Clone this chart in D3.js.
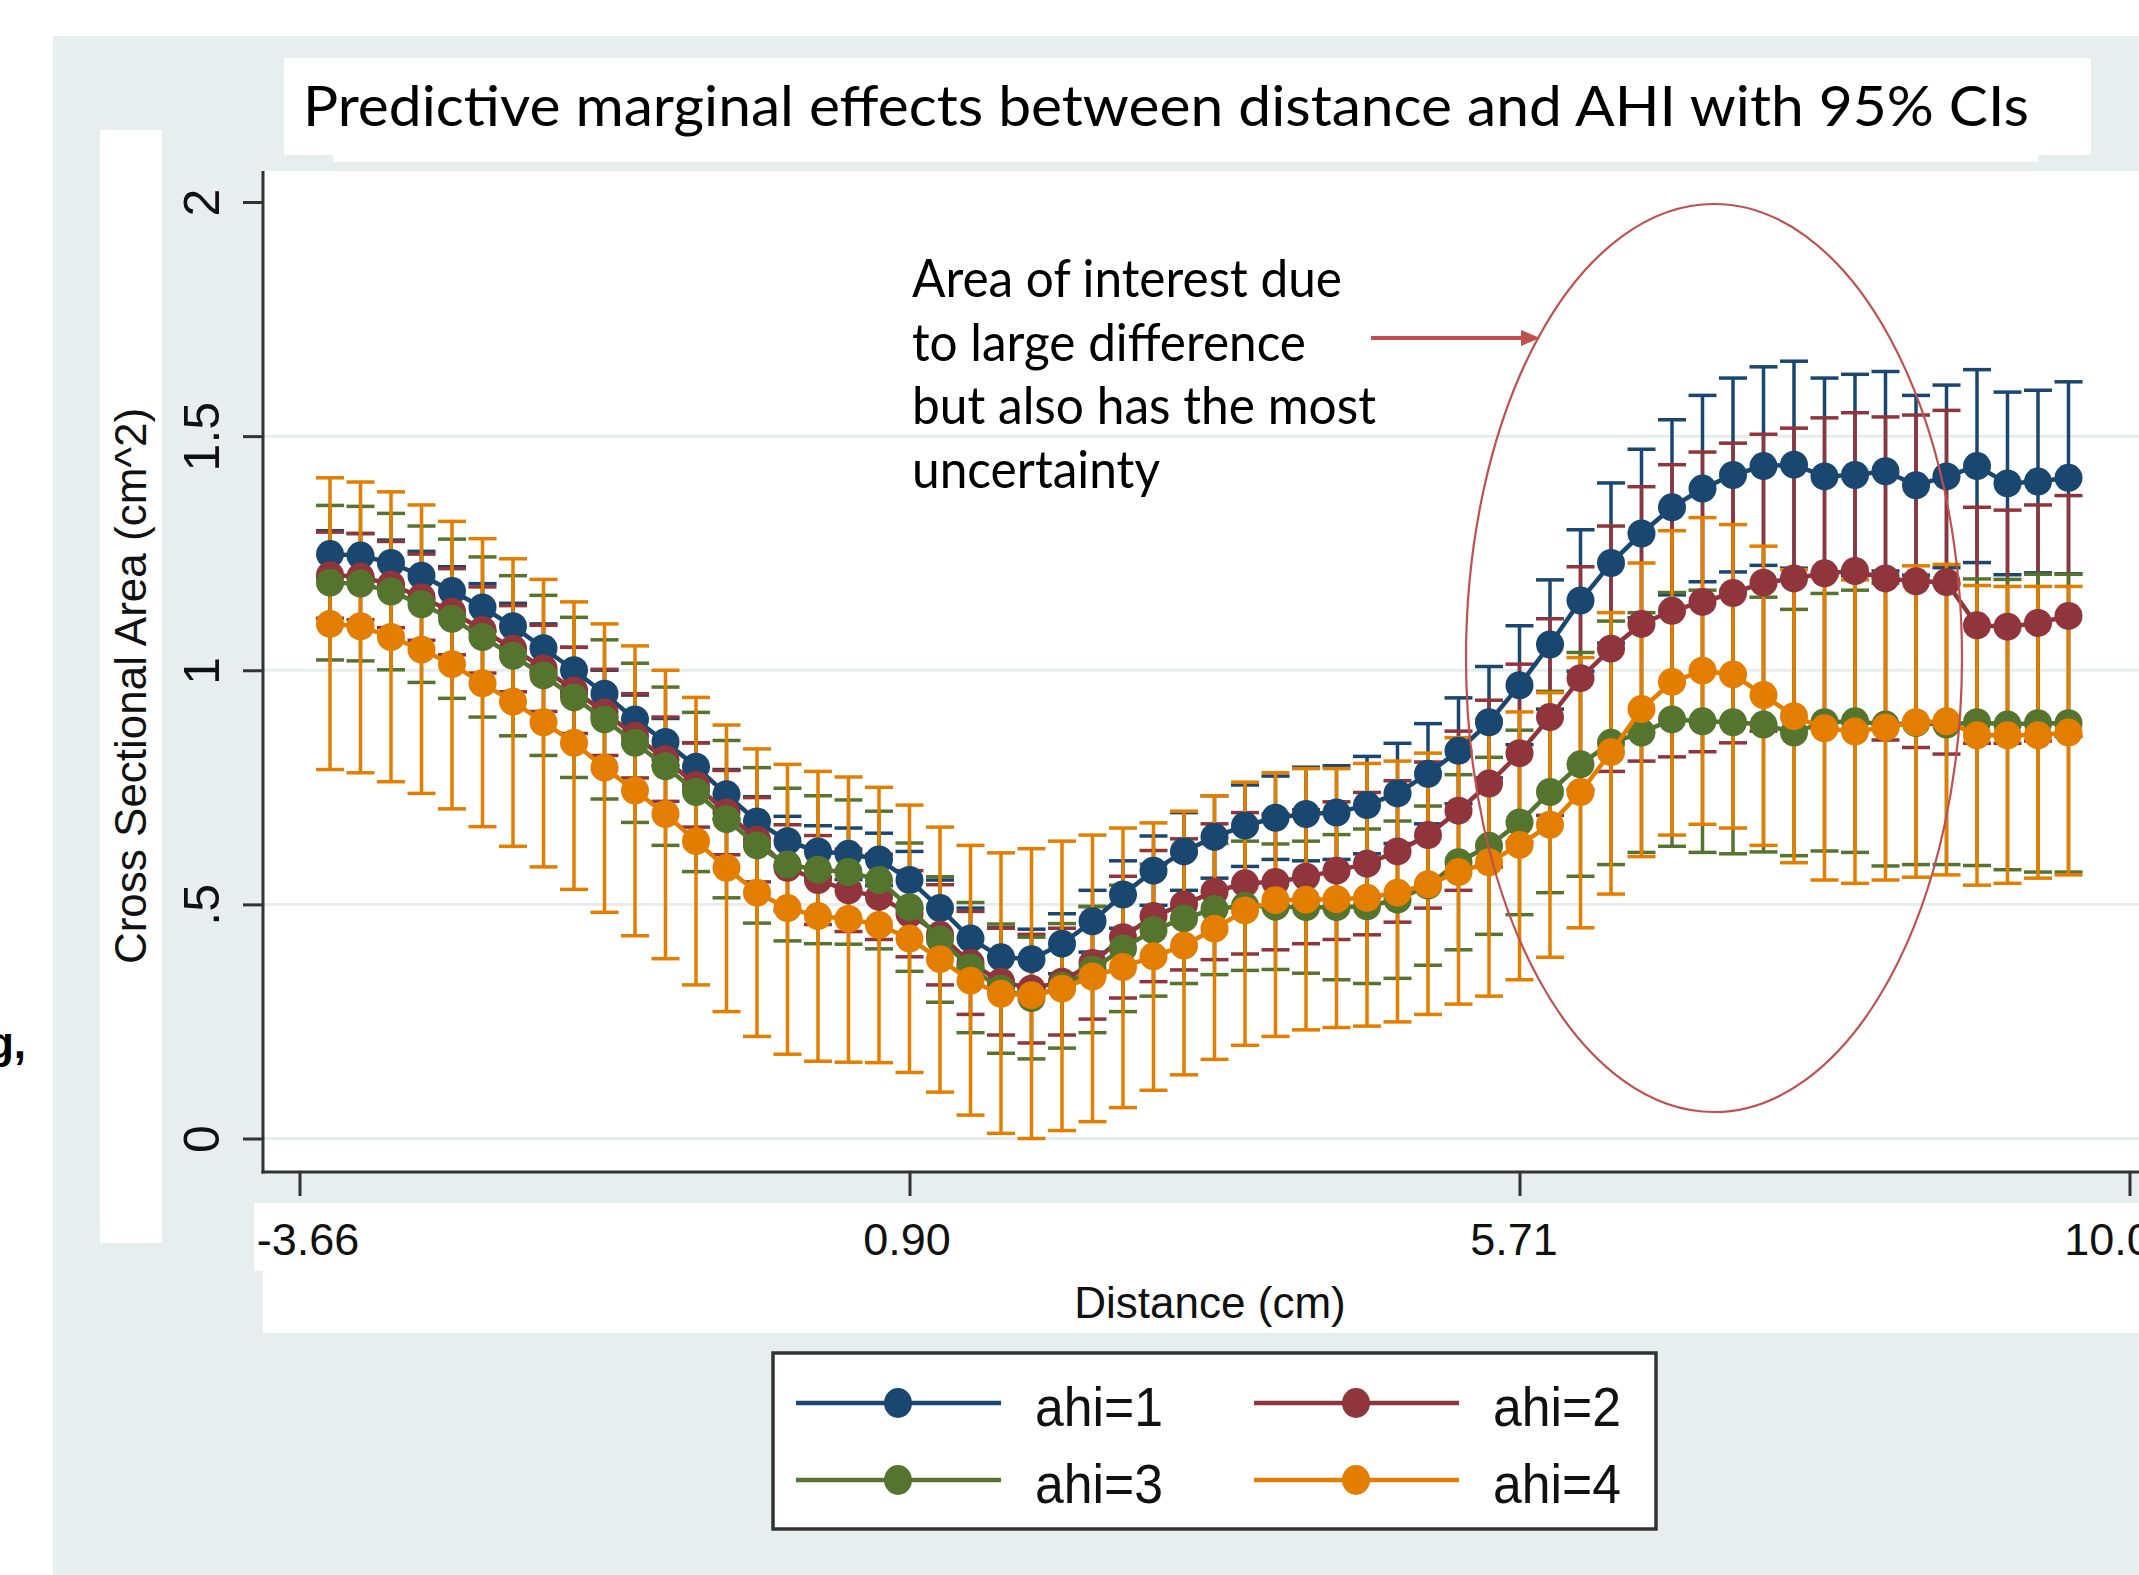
<!DOCTYPE html>
<html>
<head>
<meta charset="utf-8">
<script src="https://cdn.jsdelivr.net/npm/d3@7"></script>
<style>
  body { margin: 0; background: #ffffff; }
  svg { display: block; }
</style>
</head>
<body>
<div id="chart"></div>
<script>
// x positions are the grid steps of distance; labels only at 4 of them
const tickPos = [0, 20, 40, 60];
const tickLabels = ["-3.66", "0.90", "5.71", "10.0"];
const yTicks = [0, 0.5, 1, 1.5, 2];
const yTickLabels = ["0", ".5", "1", "1.5", "2"];
const yGrid = [0, 0.5, 1, 1.5];

// margins (cm^2) and 95% CI per ahi group, 58 distance steps
const ahi1 = [1.248,1.245,1.229,1.202,1.169,1.134,1.094,1.047,1.000,0.950,
  0.895,0.847,0.794,0.735,0.677,0.635,0.613,0.608,0.596,0.552,
  0.492,0.427,0.387,0.383,0.416,0.464,0.521,0.572,0.613,0.644,
  0.668,0.685,0.693,0.696,0.712,0.737,0.779,0.828,0.889,0.968,
  1.055,1.149,1.229,1.292,1.348,1.388,1.417,1.436,1.439,1.414,
  1.417,1.425,1.395,1.414,1.436,1.399,1.403,1.411];
const ahi1Lo = [1.198,1.198,1.180,1.150,1.117,1.083,1.045,0.995,0.951,0.900,
  0.843,0.797,0.743,0.682,0.624,0.582,0.558,0.553,0.540,0.491,
  0.432,0.362,0.324,0.319,0.352,0.398,0.449,0.498,0.530,0.556,
  0.581,0.596,0.593,0.596,0.608,0.630,0.672,0.715,0.770,0.841,
  0.917,0.998,1.058,1.112,1.161,1.189,1.210,1.224,1.218,1.204,
  1.202,1.212,1.203,1.219,1.230,1.204,1.208,1.206];
const ahi1Hi = [1.298,1.292,1.278,1.254,1.221,1.185,1.143,1.099,1.049,1.000,
  0.947,0.897,0.845,0.788,0.730,0.688,0.668,0.663,0.652,0.613,
  0.552,0.492,0.450,0.447,0.480,0.530,0.593,0.646,0.696,0.732,
  0.755,0.774,0.793,0.796,0.816,0.844,0.886,0.941,1.008,1.095,
  1.193,1.300,1.400,1.472,1.535,1.587,1.624,1.648,1.660,1.624,
  1.632,1.638,1.587,1.609,1.642,1.594,1.598,1.616];

const ahi2 = [1.203,1.200,1.183,1.156,1.125,1.086,1.046,1.004,0.957,0.910,
  0.860,0.810,0.755,0.696,0.638,0.578,0.552,0.530,0.516,0.480,
  0.435,0.375,0.335,0.320,0.335,0.375,0.430,0.475,0.500,0.527,
  0.545,0.548,0.559,0.572,0.587,0.613,0.648,0.700,0.758,0.823,
  0.900,0.983,1.046,1.099,1.127,1.146,1.165,1.187,1.196,1.207,
  1.212,1.196,1.190,1.188,1.096,1.093,1.101,1.116];
const ahi2Lo = [1.111,1.108,1.091,1.064,1.033,0.994,0.954,0.912,0.865,0.818,
  0.770,0.720,0.665,0.606,0.548,0.486,0.457,0.442,0.425,0.388,
  0.328,0.265,0.221,0.204,0.221,0.255,0.300,0.335,0.360,0.382,
  0.394,0.403,0.416,0.425,0.435,0.462,0.492,0.530,0.580,0.633,
  0.690,0.745,0.784,0.806,0.815,0.826,0.845,0.870,0.875,0.875,
  0.874,0.851,0.835,0.821,0.844,0.844,0.849,0.859];
const ahi2Hi = [1.295,1.292,1.275,1.248,1.217,1.178,1.138,1.096,1.049,1.002,
  0.950,0.900,0.845,0.786,0.728,0.670,0.647,0.618,0.607,0.572,
  0.542,0.485,0.449,0.436,0.449,0.495,0.560,0.615,0.640,0.672,
  0.696,0.693,0.702,0.719,0.739,0.764,0.804,0.870,0.936,1.013,
  1.110,1.221,1.308,1.392,1.439,1.466,1.485,1.504,1.517,1.539,
  1.550,1.541,1.545,1.555,1.348,1.342,1.353,1.373];

const ahi3 = [1.187,1.185,1.168,1.141,1.110,1.071,1.031,0.989,0.942,0.895,
  0.845,0.795,0.740,0.682,0.626,0.585,0.574,0.569,0.552,0.494,
  0.425,0.365,0.320,0.300,0.326,0.361,0.406,0.445,0.470,0.490,
  0.497,0.495,0.494,0.494,0.496,0.510,0.540,0.590,0.625,0.675,
  0.740,0.799,0.845,0.867,0.895,0.891,0.889,0.884,0.867,0.889,
  0.891,0.884,0.887,0.884,0.889,0.884,0.887,0.887];
const ahi3Lo = [1.022,1.020,1.001,0.974,0.940,0.900,0.860,0.818,0.771,0.725,
  0.675,0.626,0.570,0.514,0.460,0.422,0.416,0.415,0.405,0.357,
  0.291,0.226,0.182,0.170,0.193,0.226,0.271,0.304,0.331,0.350,
  0.359,0.361,0.353,0.339,0.331,0.342,0.370,0.403,0.436,0.478,
  0.525,0.560,0.585,0.611,0.624,0.611,0.608,0.612,0.604,0.614,
  0.611,0.582,0.585,0.585,0.583,0.574,0.569,0.569];
const ahi3Hi = [1.352,1.350,1.335,1.308,1.280,1.242,1.202,1.160,1.113,1.065,
  1.015,0.964,0.910,0.850,0.792,0.748,0.732,0.723,0.699,0.631,
  0.559,0.504,0.458,0.430,0.459,0.496,0.541,0.586,0.609,0.630,
  0.635,0.629,0.635,0.649,0.661,0.678,0.710,0.777,0.814,0.872,
  0.955,1.038,1.105,1.123,1.166,1.171,1.170,1.156,1.130,1.164,
  1.171,1.186,1.189,1.183,1.195,1.194,1.205,1.205];

const ahi4 = [1.099,1.094,1.071,1.044,1.013,0.972,0.933,0.889,0.845,0.792,
  0.743,0.693,0.635,0.578,0.525,0.492,0.475,0.469,0.456,0.427,
  0.383,0.337,0.309,0.306,0.320,0.346,0.366,0.389,0.412,0.448,
  0.487,0.509,0.510,0.511,0.514,0.525,0.543,0.569,0.590,0.627,
  0.670,0.740,0.825,0.917,0.975,0.999,0.991,0.947,0.902,0.876,
  0.869,0.878,0.889,0.891,0.861,0.861,0.861,0.867];
const ahi4Lo = [0.788,0.781,0.762,0.737,0.704,0.666,0.624,0.580,0.532,0.483,
  0.433,0.384,0.328,0.271,0.218,0.180,0.165,0.163,0.162,0.141,
  0.099,0.050,0.011,0.000,0.017,0.036,0.066,0.103,0.136,0.169,
  0.199,0.218,0.232,0.237,0.240,0.249,0.265,0.287,0.304,0.339,
  0.387,0.450,0.522,0.602,0.648,0.671,0.663,0.626,0.589,0.552,
  0.545,0.552,0.558,0.563,0.541,0.545,0.556,0.563];
const ahi4Hi = [1.411,1.402,1.381,1.353,1.318,1.281,1.238,1.194,1.146,1.099,
  1.052,1.000,0.942,0.883,0.832,0.799,0.784,0.772,0.750,0.712,
  0.665,0.626,0.610,0.619,0.635,0.648,0.663,0.674,0.699,0.732,
  0.761,0.781,0.790,0.790,0.801,0.806,0.823,0.856,0.895,0.911,
  0.952,1.027,1.123,1.229,1.298,1.326,1.311,1.265,1.215,1.200,
  1.193,1.204,1.223,1.226,1.181,1.179,1.179,1.179];

const seriesNames = ["ahi=1", "ahi=2", "ahi=3", "ahi=4"];
const seriesColors = ["#1a476f", "#90353b", "#55752f", "#e37e00"];

const annotationLines = ["Area of interest due", "to large difference",
  "but also has the most", "uncertainty"];

const series = [
  {name: seriesNames[0], mean: ahi1, lo: ahi1Lo, hi: ahi1Hi, color: seriesColors[0]},
  {name: seriesNames[1], mean: ahi2, lo: ahi2Lo, hi: ahi2Hi, color: seriesColors[1]},
  {name: seriesNames[2], mean: ahi3, lo: ahi3Lo, hi: ahi3Hi, color: seriesColors[2]},
  {name: seriesNames[3], mean: ahi4, lo: ahi4Lo, hi: ahi4Hi, color: seriesColors[3]}
];

const W = 2139, H = 1575;
const bg = "#e8eeee";
const plot = {left: 263, top: 171, right: 2139, bottom: 1172};

const svg = d3.select("#chart").append("svg")
    .attr("width", W)
    .attr("height", H);

svg.append("rect").attr("width", W).attr("height", H).attr("fill", "#ffffff");
// stata graph region
svg.append("rect").attr("x", 53).attr("y", 36).attr("width", W - 53).attr("height", H - 36).attr("fill", bg);

// white boxes pasted over the title and labels
svg.append("rect").attr("x", 284).attr("y", 58).attr("width", 1807).attr("height", 97).attr("fill", "#fff");
svg.append("rect").attr("x", 333).attr("y", 154).attr("width", 1705).attr("height", 8).attr("fill", "#fff");
svg.append("rect").attr("x", 100).attr("y", 130).attr("width", 62).attr("height", 1113).attr("fill", "#fff");
svg.append("rect").attr("x", 254).attr("y", 1203).attr("width", W - 254).attr("height", 68).attr("fill", "#fff");
svg.append("rect").attr("x", 263).attr("y", 1271).attr("width", W - 263).attr("height", 62).attr("fill", "#fff");

// plot region
svg.append("rect")
    .attr("x", plot.left).attr("y", plot.top)
    .attr("width", plot.right - plot.left).attr("height", plot.bottom - plot.top)
    .attr("fill", "#fff");

const x = d3.scaleLinear().domain([0, 60]).range([299.5, 2129.5]);
const y = d3.scaleLinear().domain([0, 2]).range([1138.5, 202]);

// grid
svg.append("g")
  .selectAll("line")
  .data(yGrid)
  .join("line")
    .attr("x1", plot.left).attr("x2", plot.right)
    .attr("y1", d => y(d)).attr("y2", d => y(d))
    .attr("stroke", "#e6eded")
    .attr("stroke-width", 3);

// y axis
const yAxis = svg.append("g")
    .attr("transform", `translate(${plot.left},0)`)
    .call(d3.axisLeft(y).tickValues(yTicks).tickFormat((d, i) => yTickLabels[i]).tickSize(20).tickSizeOuter(0));
yAxis.select(".domain").remove();
yAxis.selectAll(".tick line").attr("stroke", "#333").attr("stroke-width", 3);
yAxis.selectAll(".tick text")
    .attr("transform", "rotate(-90)")
    .attr("x", 0).attr("y", -44).attr("dy", 0)
    .attr("text-anchor", "middle")
    .attr("font-family", "Liberation Sans, Arial, sans-serif")
    .attr("font-size", 50)
    .attr("fill", "#111");

// x axis
const labelShift = [8, -3, -6, -22];
const xAxis = svg.append("g")
    .attr("transform", `translate(0,${plot.bottom})`)
    .call(d3.axisBottom(x).tickValues(tickPos).tickFormat((d, i) => tickLabels[i]).tickSize(24).tickSizeOuter(0));
xAxis.select(".domain").remove();
xAxis.selectAll(".tick line").attr("stroke", "#333").attr("stroke-width", 3);
xAxis.selectAll(".tick text")
    .attr("x", (d, i) => labelShift[i])
    .attr("y", 83).attr("dy", 0)
    .attr("font-family", "Liberation Sans, Arial, sans-serif")
    .attr("font-size", 45)
    .attr("fill", "#111");

// axis lines
svg.append("line")
    .attr("x1", plot.left).attr("x2", plot.left)
    .attr("y1", plot.top).attr("y2", plot.bottom + 1.5)
    .attr("stroke", "#333").attr("stroke-width", 3);
svg.append("line")
    .attr("x1", plot.left - 1.5).attr("x2", plot.right)
    .attr("y1", plot.bottom).attr("y2", plot.bottom)
    .attr("stroke", "#333").attr("stroke-width", 3);

// axis titles
svg.append("text")
    .attr("transform", "translate(146,686) rotate(-90)")
    .attr("text-anchor", "middle")
    .attr("font-family", "Liberation Sans, Arial, sans-serif")
    .attr("font-size", 44)
    .attr("fill", "#111")
    .text("Cross Sectional Area (cm^2)");
svg.append("text")
    .attr("x", 1210).attr("y", 1318)
    .attr("text-anchor", "middle")
    .attr("font-family", "Liberation Sans, Arial, sans-serif")
    .attr("font-size", 44)
    .attr("fill", "#111")
    .text("Distance (cm)");

// confidence intervals (drawn first, like marginsplot)
const capW = 14;
series.forEach(s => {
  const g = svg.append("g").attr("stroke", s.color).attr("stroke-width", 3.5).attr("fill", "none");
  s.mean.forEach((m, i) => {
    const px = x(i + 1);
    g.append("line").attr("x1", px).attr("x2", px).attr("y1", y(s.lo[i])).attr("y2", y(s.hi[i]));
    g.append("line").attr("x1", px - capW).attr("x2", px + capW).attr("y1", y(s.lo[i])).attr("y2", y(s.lo[i]));
    g.append("line").attr("x1", px - capW).attr("x2", px + capW).attr("y1", y(s.hi[i])).attr("y2", y(s.hi[i]));
  });
});

// connected lines with markers
const line = d3.line().x((d, i) => x(i + 1)).y(d => y(d));
series.forEach(s => {
  svg.append("path")
      .datum(s.mean)
      .attr("fill", "none")
      .attr("stroke", s.color)
      .attr("stroke-width", 4.5)
      .attr("d", line);
  svg.append("g")
    .selectAll("circle")
    .data(s.mean)
    .join("circle")
      .attr("cx", (d, i) => x(i + 1))
      .attr("cy", d => y(d))
      .attr("r", 14)
      .attr("fill", s.color);
});

// title
svg.append("text")
    .attr("x", 303).attr("y", 126)
    .attr("font-family", "Lato, Open Sans, sans-serif")
    .attr("font-size", 56)
    .attr("textLength", 1726)
    .attr("lengthAdjust", "spacingAndGlyphs")
    .attr("fill", "#000")
    .text("Predictive marginal effects between distance and AHI with 95% CIs");

// annotation
const noteWidths = [430, 394, 464, 248];
svg.append("g")
  .selectAll("text")
  .data(annotationLines)
  .join("text")
    .attr("x", 912)
    .attr("y", (d, i) => 297 + i * 63.5)
    .attr("font-family", "Lato, Open Sans, sans-serif")
    .attr("font-size", 53)
    .attr("textLength", (d, i) => noteWidths[i])
    .attr("lengthAdjust", "spacingAndGlyphs")
    .attr("fill", "#000")
    .text(d => d);

svg.append("line")
    .attr("x1", 1371).attr("x2", 1524)
    .attr("y1", 338).attr("y2", 338)
    .attr("stroke", "#c0504d").attr("stroke-width", 4);
svg.append("path")
    .attr("d", "M1540,338 L1521,330 L1521,346 Z")
    .attr("fill", "#c0504d");

svg.append("ellipse")
    .attr("cx", 1714).attr("cy", 658)
    .attr("rx", 248).attr("ry", 454)
    .attr("fill", "none")
    .attr("stroke", "#c0504d")
    .attr("stroke-width", 2.2);

// legend
const legend = svg.append("g");
legend.append("rect")
    .attr("x", 773).attr("y", 1353)
    .attr("width", 883).attr("height", 176)
    .attr("fill", "#fff")
    .attr("stroke", "#333")
    .attr("stroke-width", 3.5);
const legX = [796, 1254];
const legY = [1403, 1480];
series.forEach((s, i) => {
  const lx = legX[i % 2], ly = legY[Math.floor(i / 2)];
  legend.append("line")
      .attr("x1", lx).attr("x2", lx + 205)
      .attr("y1", ly).attr("y2", ly)
      .attr("stroke", s.color).attr("stroke-width", 4.5);
  legend.append("ellipse")
      .attr("cx", lx + 102).attr("cy", ly)
      .attr("rx", 14).attr("ry", 15)
      .attr("fill", s.color);
  legend.append("text")
      .attr("x", lx + 239).attr("y", ly + 23)
      .attr("font-family", "Liberation Sans, Arial, sans-serif")
      .attr("font-size", 55)
      .attr("textLength", 128)
      .attr("lengthAdjust", "spacingAndGlyphs")
      .attr("fill", "#111")
      .text(s.name);
});

// stray text from the slide behind
svg.append("text")
    .attr("x", 26).attr("y", 1058)
    .attr("text-anchor", "end")
    .attr("font-family", "Liberation Sans, Arial, sans-serif")
    .attr("font-weight", "bold")
    .attr("font-size", 44)
    .attr("fill", "#000")
    .text("g,");
</script>
</body>
</html>
